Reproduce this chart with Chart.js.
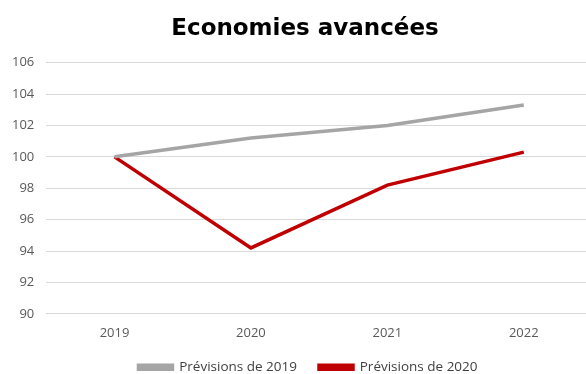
<!DOCTYPE html>
<html>
<head>
<meta charset="utf-8">
<script src="https://cdn.jsdelivr.net/npm/chart.js@4"></script>
<style>
  html, body { margin: 0; padding: 0; background: #fff; overflow: hidden; }
  #wrap { width: 592px; height: 374px; }
</style>
</head>
<body>
<div id="wrap"><canvas id="chart" width="592" height="374"></canvas></div>
<script>
// Data
const years = ['2019', '2020', '2021', '2022'];
const forecast2019 = [100, 101.2, 102.0, 103.3];
const forecast2020 = [100, 94.2, 98.2, 100.3];
const yTicks = [90, 92, 94, 96, 98, 100, 102, 104, 106];

const tickFont = { family: 'Open Sans', size: 13 };

// put legend and title back where the original has them after the layout is squeezed
const blockShift = {
    id: 'blockShift',
    afterLayout: function (chart) {
        const lg = chart.legend;
        if (lg) {
            lg.top -= 15; lg.bottom -= 15;
            lg.left += 12; lg.right += 12;
        }
        const tb = chart.titleBlock;
        if (tb) { tb.left += 9; tb.right += 9; }
    }
};

const ctx = document.getElementById('chart').getContext('2d');
new Chart(ctx, {
    type: 'line',
    data: {
        labels: years,
        datasets: [{
            label: 'Prévisions de 2019',
            data: forecast2019,
            borderColor: '#a5a5a5',
            backgroundColor: '#a5a5a5',
            borderWidth: 3.5,
            pointRadius: 0,
            tension: 0
        }, {
            label: 'Prévisions de 2020',
            data: forecast2020,
            borderColor: '#c00000',
            backgroundColor: '#c00000',
            borderWidth: 3.5,
            pointRadius: 0,
            tension: 0
        }]
    },
    options: {
        responsive: false,
        animation: false,
        layout: { padding: { left: 0, right: 0, top: 10, bottom: -25 } },
        scales: {
            x: {
                offset: true,
                grid: { display: false, drawTicks: false },
                border: { display: false },
                ticks: { color: '#595959', font: tickFont, padding: 12 }
            },
            y: {
                min: 90,
                max: 106,
                afterBuildTicks: function (axis) {
                    axis.ticks = yTicks.map(v => ({ value: v }));
                },
                grid: { color: '#d9d9d9', drawTicks: false },
                border: { display: false },
                ticks: { color: '#595959', font: tickFont, padding: 12 }
            }
        },
        plugins: {
            title: {
                display: true,
                text: 'Economies avancées',
                color: '#000',
                font: { family: 'DejaVu Sans', size: 23, weight: 'bold' },
                padding: { top: 5, bottom: 20 }
            },
            legend: {
                position: 'bottom',
                labels: {
                    color: '#404040',
                    font: { family: 'Open Sans', size: 13.5 },
                    boxWidth: 34,
                    boxHeight: 4,
                    padding: 22
                }
            },
            tooltip: { enabled: false }
        }
    },
    plugins: [blockShift]
});
</script>
</body>
</html>
